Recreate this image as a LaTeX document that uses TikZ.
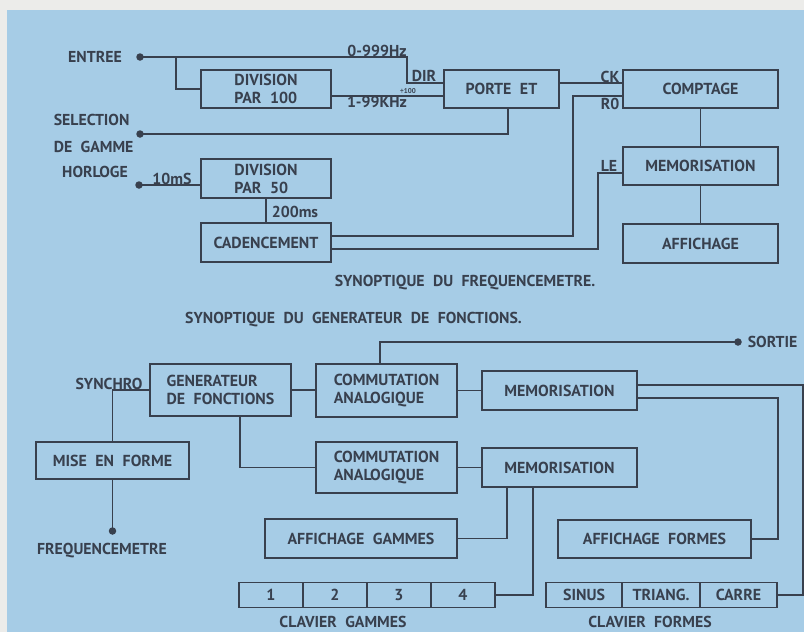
\documentclass[tikz,border=0pt]{standalone}
\usepackage{fontspec}
\setmainfont{PT Sans}[WordSpace=2.1]
\usetikzlibrary{calc}

\definecolor{paper}{RGB}{236,236,234}
\definecolor{bleu}{RGB}{166,204,230}
\definecolor{encre}{RGB}{56,64,78}

\tikzset{
	blk/.style={draw=encre,line width=1.4pt,inner sep=2pt,text=encre,
		font=\fontsize{13.6}{15.5}\selectfont\bfseries},
	sz/.style 2 args={minimum width=#1*0.03cm,minimum height=#2*0.03cm},
	key/.style={blk},
	lbl/.style={inner sep=0pt,text=encre,font=\fontsize{13.5}{15}\selectfont\bfseries},
	tiny/.style={inner sep=0pt,text=encre,font=\fontsize{6}{7}\selectfont\bfseries}
}

\begin{document}
\begin{tikzpicture}[x=0.03cm,y=-0.03cm,line width=1.4pt,color=encre]
	\useasboundingbox (0,0) rectangle (804,632);
	\fill[paper] (0,0) rectangle (804,632);
	\fill[bleu] (7,10) rectangle (804,632);

	% frequencemetre
	\node[blk,sz={130}{38},align=left] (div100) at (266,89) {DIVISION\\PAR 100};
	\node[blk,sz={115}{38}] (porte) at (501.5,89) {PORTE ET};
	\node[blk,sz={155}{38}] (comptage) at (700.5,89) {COMPTAGE};
	\node[blk,sz={155}{38}] (memo) at (700.5,166) {MEMORISATION};
	\node[blk,sz={155}{39}] (affich) at (700.5,243.5) {AFFICHAGE};
	\node[blk,sz={130}{39},align=left] (div50) at (266,178.5) {DIVISION\\PAR 50};
	\node[blk,sz={130}{39}] (caden) at (266,242.5) {CADENCEMENT};

	\coordinate (entree) at (140,57);
	\coordinate (select) at (140,134);
	\coordinate (horloge) at (139,185);
	\coordinate (split) at (176,57);
	\coordinate (dir) at (407,83);
	\coordinate (r0) at (573,236);
	\coordinate (le) at (598,173);

	\draw (entree) -| (dir) -- (dir -| porte.west);
	\draw (split) |- (div100.west);
	\draw ($(div100.east)+(0,7)$) -- ($(porte.west)+(0,7)$);
	\draw (select) -| ($(porte.south)+(6.5,0)$);
	\draw ($(porte.east)+(0,-6)$) -- ($(comptage.west)+(0,-6)$);
	\draw ($(comptage.west)+(0,7)$) -| (r0) -- (r0 -| caden.east);
	\draw ($(caden.east)+(0,6.5)$) -| (le) -- (le -| memo.west);
	\draw (comptage) -- (memo) -- (affich);
	\draw (horloge) -- (horloge -| div50.west);
	\draw (div50) -- (caden);
	\fill (entree) circle (3.2pt);
	\fill (select) circle (3.2pt);
	\fill (horloge) circle (3.2pt);

	\node[lbl] (lentree) at (95,57) {ENTREE};
	\node[lbl,anchor=west,align=left] (lselect) at (53,133.5) {SELECTION\\[8pt]DE GAMME};
	\node[lbl] (lhorloge) at (95,172) {HORLOGE};
	\node[lbl] (lbas) at (377,50.5) {0-999Hz};
	\node[lbl] (lhaut) at (377,102) {1-99KHz};
	\node[lbl] (ldir) at (424,76) {DIR};
	\node[tiny] (lcent) at (408,91) {÷100};
	\node[lbl] (lck) at (610,77) {CK};
	\node[lbl] (lro) at (610,104) {R0};
	\node[lbl] (lle) at (609,166) {LE};
	\node[lbl] (ldix) at (172,179) {10mS};
	\node[lbl] (ldeux) at (295,212) {200ms};
	\node[lbl] (titre1) at (465,283) {SYNOPTIQUE DU FREQUENCEMETRE.};

	% generateur
	\node[blk,sz={141}{52},align=left] (gen) at (220.5,390) {GENERATEUR\\DE FONCTIONS};
	\node[blk,sz={141}{53},align=left] (comm1) at (386.5,390.5) {COMMUTATION\\ANALOGIQUE};
	\node[blk,sz={155}{39}] (mem1) at (559.5,390.5) {MEMORISATION};
	\node[blk,sz={153}{37}] (mise) at (112.5,460.5) {MISE EN FORME};
	\node[blk,sz={141}{51},align=left] (comm2) at (386.5,467.5) {COMMUTATION\\ANALOGIQUE};
	\node[blk,sz={155}{39}] (mem2) at (559.5,467.5) {MEMORISATION};
	\node[blk,sz={192}{39}] (affgam) at (361,538.5) {AFFICHAGE GAMMES};
	\node[blk,sz={193}{38}] (afffor) at (654.5,539) {AFFICHAGE FORMES};
	\foreach \k/\kx in {1/271,2/335,3/399,4/463}
		\node[key,sz={64}{25}] (g\k) at (\kx,595) {\k};
	\foreach \k/\kx/\kw/\kt in {1/584/76/SINUS,2/661/78/TRIANG.,3/738.5/77/CARRE}
		\node[key,sz={\kw}{25}] (f\k) at (\kx,595) {\kt};

	\coordinate (sortie) at (738,342);
	\coordinate (freq) at (112.5,531);

	\draw (sortie) -| ($(comm1.north)+(-6.5,0)$);
	\draw (gen.east) -- (gen.east -| comm1.west);
	\draw (comm1.east) -- (comm1.east -| mem1.west);
	\draw ($(mem1.east)+(0,-5.5)$) -| ($(f3.east)+(25,0)$) -- (f3.east);
	\draw ($(mem1.east)+(0,7.5)$) -| ($(afffor.east)+(26,0)$) -- (afffor.east);
	\draw ($(gen.south)+(19.5,0)$) |- (comm2.west);
	\draw (comm2.east) -- (comm2.east -| mem2.west);
	\draw ($(mem2.south)+(-52.5,0)$) |- (affgam.east);
	\draw ($(mem2.south)+(-26.5,0)$) |- (g4.east);
	\draw (gen.west) -| (mise.north);
	\draw (mise.south) -- (freq);
	\fill (sortie) circle (3.2pt);
	\fill (freq) circle (3.2pt);

	\node[lbl] (titre2) at (353.5,320) {SYNOPTIQUE DU GENERATEUR DE FONCTIONS.};
	\node[lbl,anchor=west] (lsortie) at (747,342) {SORTIE};
	\node[lbl] (lsynchro) at (109,384) {SYNCHRO};
	\node[lbl] (lfreq) at (102,551) {FREQUENCEMETRE};
	\node[lbl] (lclavg) at (343,621.5) {CLAVIER GAMMES};
	\node[lbl] (lclavf) at (650,621.5) {CLAVIER FORMES};
\end{tikzpicture}
\end{document}
